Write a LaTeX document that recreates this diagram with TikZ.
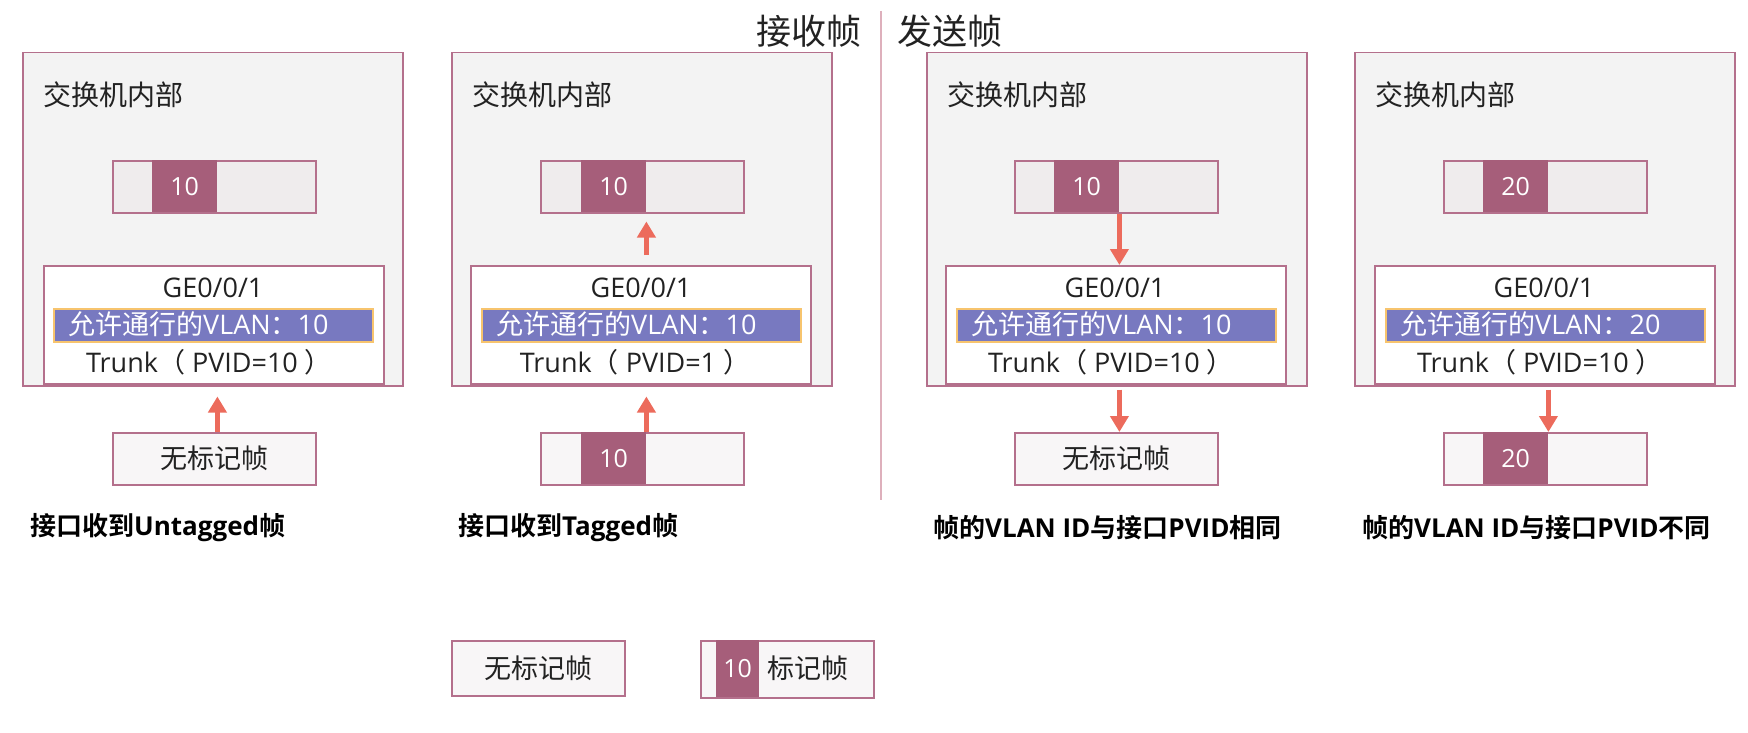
\documentclass[tikz,border=0pt]{standalone}
\usepackage{fontspec}
\usepackage{xcolor}
\usepackage{tikz}
\usetikzlibrary{arrows.meta,positioning}
\setmainfont{Open Sans}
\newfontfamily\cjk{Noto Sans CJK SC}[BoldFont={Noto Sans CJK SC Bold}]
\definecolor{panelbg}{RGB}{243,243,243}
\definecolor{panelline}{RGB}{180,112,140}
\definecolor{tagcolor}{RGB}{166,94,122}
\definecolor{framebg}{RGB}{239,236,237}
\definecolor{framebgout}{RGB}{248,246,247}
\definecolor{barblue}{RGB}{120,121,192}
\definecolor{barline}{RGB}{247,196,110}
\definecolor{flowred}{RGB}{236,107,92}
\definecolor{dividerpink}{RGB}{222,176,188}
\definecolor{textgray}{RGB}{34,34,34}

\begin{document}
\begin{tikzpicture}[
    x=1pt, y=-1pt,
    panel/.style={rectangle, draw=panelline, fill=panelbg, line width=1.5pt, anchor=north west, inner sep=0, minimum width=380pt, minimum height=333pt},
    swlabel/.style={anchor=west, inner sep=0, text=textgray, font=\cjk\fontsize{28}{32}\selectfont},
    frame/.style={rectangle, draw=panelline, fill=framebg, line width=1.5pt, anchor=north west, inner sep=0, minimum width=203pt, minimum height=52pt, text=textgray, font=\cjk\fontsize{27}{31}\selectfont},
    frameout/.style={frame, fill=framebgout},
    tagcell/.style={rectangle, fill=tagcolor, anchor=north west, inner sep=0, minimum width=65pt, minimum height=52pt, text=white, font=\fontsize{25}{29}\selectfont},
    port/.style={rectangle, draw=panelline, fill=white, line width=1.5pt, anchor=north west, inner sep=0, minimum width=340pt, minimum height=118pt},
    porttext/.style={inner sep=0, text=textgray, font=\fontsize{27}{31}\selectfont},
    vlanbar/.style={rectangle, draw=barline, fill=barblue, line width=1.5pt, anchor=north west, inner sep=0, minimum width=319pt, minimum height=33pt},
    bartext/.style={anchor=west, inner sep=0, text=white, font=\fontsize{27}{31}\selectfont},
    caption/.style={anchor=west, inner sep=0, text=black, font=\bfseries\fontsize{26}{30}\selectfont},
    title/.style={inner sep=0, text=textgray, font=\cjk\fontsize{35}{40}\selectfont},
    flow/.style={-{Triangle[width=18pt,length=16pt]}, line width=4.5pt, draw=flowred}
]
\useasboundingbox (0,0) rectangle (1748,733);

% Titles and divider
\node[title, anchor=east] (rxtitle) at (862,31) {接收帧};
\node[title, anchor=west] (txtitle) at (897,31) {发送帧};
\coordinate (divtop) at (881,11);
\coordinate (divbot) at (881,500);
\draw[dividerpink, line width=1.2pt] (divtop) -- (divbot);

% Panel 1: port receives untagged frame
\node[panel] (swA) at (22,52) {};
\node[swlabel] (labA) at (43,95) {交换机内部};
\node[frame] (topA) at (112,160) {};
\node[tagcell] (tagA) at (152,160) {10};
\node[port] (portA) at (43,265) {};
\node[porttext] (geA) at (213,288) {GE0/0/1};
\node[vlanbar] (barA) at (53,308) {};
\node[bartext] (vlanA) at (68,324.5) {{\cjk 允许通行的}VLAN{\cjk ：}10};
\node[porttext] (pvidA) at (209,362) {Trunk{\cjk （}\ PVID=10\ {\cjk ）}};
\node[frameout] (botA) at (112,432) {无标记帧};
\node[caption] (capA) at (30,528) {{\cjk 接口收到}Untagged{\cjk 帧}};
\draw[flow, shorten >=12pt] (tagA.east |- botA.north) -- (tagA.east |- portA.south);

% Panel 2: port receives tagged frame
\node[panel] (swB) at (451,52) {};
\node[swlabel] (labB) at (472,95) {交换机内部};
\node[frame] (topB) at (540,160) {};
\node[tagcell] (tagB) at (581,160) {10};
\node[port] (portB) at (470,265) {};
\node[porttext] (geB) at (641,288) {GE0/0/1};
\node[vlanbar] (barB) at (481,308) {};
\node[bartext] (vlanB) at (496,324.5) {{\cjk 允许通行的}VLAN{\cjk ：}10};
\node[porttext] (pvidB) at (635,362) {Trunk{\cjk （}\ PVID=1\ {\cjk ）}};
\node[frameout] (botB) at (540,432) {};
\node[tagcell] (tagBb) at (581,432) {10};
\node[caption] (capB) at (458,528) {{\cjk 接口收到}Tagged{\cjk 帧}};
\draw[flow, shorten >=12pt] (tagB.east |- botB.north) -- (tagB.east |- portB.south);
\draw[flow, shorten <=10pt, shorten >=8pt] (tagB.east |- portB.north) -- (tagB.east |- topB.south);

% Panel 3: VLAN ID equals PVID
\node[panel] (swC) at (926,52) {};
\node[swlabel] (labC) at (947,95) {交换机内部};
\node[frame] (topC) at (1014,160) {};
\node[tagcell] (tagC) at (1054,160) {10};
\node[port] (portC) at (945,265) {};
\node[porttext] (geC) at (1115,288) {GE0/0/1};
\node[vlanbar] (barC) at (956,308) {};
\node[bartext] (vlanC) at (971,324.5) {{\cjk 允许通行的}VLAN{\cjk ：}10};
\node[porttext] (pvidC) at (1111,362) {Trunk{\cjk （}\ PVID=10\ {\cjk ）}};
\node[frameout] (botC) at (1014,432) {无标记帧};
\node[caption] (capC) at (933,528) {{\cjk 帧的}VLAN ID{\cjk 与接口}PVID{\cjk 相同}};
\draw[flow] (tagC.east |- topC.south) -- (tagC.east |- portC.north);
\draw[flow, shorten <=5pt] (tagC.east |- portC.south) -- (tagC.east |- botC.north);

% Panel 4: VLAN ID differs from PVID
\node[panel] (swD) at (1354,52) {};
\node[swlabel] (labD) at (1375,95) {交换机内部};
\node[frame] (topD) at (1443,160) {};
\node[tagcell] (tagD) at (1483,160) {20};
\node[port] (portD) at (1374,265) {};
\node[porttext] (geD) at (1544,288) {GE0/0/1};
\node[vlanbar] (barD) at (1385,308) {};
\node[bartext] (vlanD) at (1400,324.5) {{\cjk 允许通行的}VLAN{\cjk ：}20};
\node[porttext] (pvidD) at (1540,362) {Trunk{\cjk （}\ PVID=10\ {\cjk ）}};
\node[frameout] (botD) at (1443,432) {};
\node[tagcell] (tagDb) at (1483,432) {20};
\node[caption] (capD) at (1362,528) {{\cjk 帧的}VLAN ID{\cjk 与接口}PVID{\cjk 不同}};
\draw[flow, shorten <=5pt] (tagD.east |- portD.south) -- (tagD.east |- botD.north);

% Legend
\node[frameout, minimum width=173pt, minimum height=55pt] (legUntag) at (451,640) {无标记帧};
\node[frameout, minimum width=173pt, minimum height=57pt] (legTag) at (700,640) {};
\node[tagcell, minimum width=43pt, minimum height=57pt] (legCell) at (716,640) {10};
\node[swlabel, font=\cjk\fontsize{27}{31}\selectfont] (legText) at (767,668.5) {标记帧};

\end{tikzpicture}
\end{document}
